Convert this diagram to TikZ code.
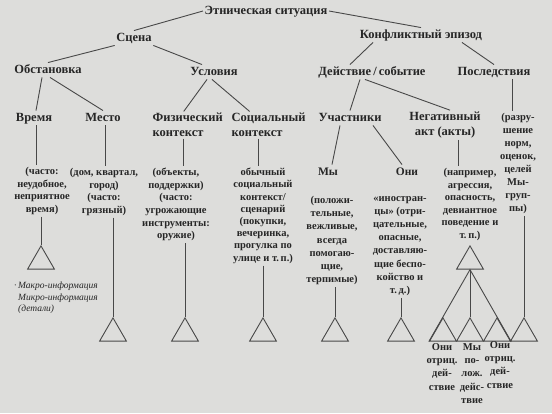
\documentclass[tikz,border=0pt]{standalone}
\usepackage{fontspec}
\setmainfont{Liberation Serif}
\usetikzlibrary{positioning, shapes.geometric}
\definecolor{bumaga}{HTML}{DDDDDB}
\definecolor{tush}{HTML}{262626}
\definecolor{shtrih}{HTML}{484848}

\begin{document}
\begin{tikzpicture}[x=1pt, y=-1pt,
    zagl/.style={text=tush, font=\fontsize{12.5}{14}\selectfont\bfseries,
      inner sep=1.5pt, text height=9pt, text depth=2.5pt},
    zagl2/.style={text=tush, font=\fontsize{12.5}{15}\selectfont\bfseries,
      inner sep=1.5pt, align=left},
    opis/.style={text=tush, font=\fontsize{10.5}{12.6}\selectfont\bfseries,
      inner sep=2pt, align=center, anchor=north},
    treug/.style={draw=shtrih, line width=0.9pt, regular polygon,
      regular polygon sides=3, minimum size=31pt, inner sep=0pt,
      anchor=corner 1},
    liniya/.style={shtrih, line width=0.9pt}]
  \fill[bumaga] (0,0) rectangle (552,413);
  \node[zagl] (situaciya) at (266,11) {Этническая ситуация};
  \node[zagl] (scena) at (134,38) {Сцена};
  \node[zagl] (konflikt) at (421,35) {Конфликтный эпизод};
  \node[zagl] (obstanovka) at (48,70) {Обстановка};
  \node[zagl] (usloviya) at (214,72) {Условия};
  \node[zagl] (dejstvie) at (372,72) {Действие\,/\,событие};
  \node[zagl] (posledstviya) at (494,72) {Последствия};
  \node[zagl] (vremya) at (34,118) {Время};
  \node[zagl] (mesto) at (103,118) {Место};
  \node[zagl2, anchor=west] (fiz) at (151,125) {Физический\\контекст};
  \node[zagl2, anchor=west] (soc) at (230,125) {Социальный\\контекст};
  \node[zagl] (uchastniki) at (350,118) {Участники};
  \node[zagl2, align=center] (negativ) at (445,125) {Негативный\\акт (акты)};
  \node[zagl, font=\fontsize{11.5}{13}\selectfont\bfseries] (my) at (328,172) {Мы};
  \node[zagl, font=\fontsize{11.5}{13}\selectfont\bfseries] (oni) at (407,172) {Они};

  \node[opis] (opVremya) at (42,165) {(часто:\\неудобное,\\неприятное\\время)};
  \node[opis] (opMesto) at (104,166) {(дом, квартал,\\город)\\(часто:\\грязный)};
  \node[opis] (opFiz) at (176,166) {(объекты,\\поддержки)\\(часто:\\угрожающие\\инструменты:\\оружие)};
  \node[opis, font=\fontsize{10.5}{12.2}\selectfont\bfseries] (opSoc) at (263,166) {обычный\\социальный\\контекст/\\сценарий\\(покупки,\\вечеринка,\\прогулка по\\улице и т.\,п.)};
  \node[opis, font=\fontsize{10.5}{13.2}\selectfont\bfseries] (opMy) at (332,194) {(положи-\\тельные,\\вежливые,\\всегда\\помогаю-\\щие,\\терпимые)};
  \node[opis, font=\fontsize{10.5}{13.2}\selectfont\bfseries] (opOni) at (400,194) {«иностран-\\цы» (отри-\\цательные,\\опасные,\\доставляю-\\щие беспо-\\койство и\\т.\,д.)};
  \node[opis] (opNegativ) at (470,166) {(например,\\агрессия,\\опасность,\\девиантное\\поведение и\\т.\,п.)};
  \node[opis, font=\fontsize{10.5}{13}\selectfont\bfseries] (opPosl) at (518,111) {(разру-\\шение\\норм,\\оценок,\\целей\\Мы-\\груп-\\пы)};

  \node[text=tush, font=\fontsize{9.5}{11.5}\selectfont\itshape, align=left,
    anchor=north west, inner sep=0pt] (legenda) at (18,282)
    {\llap{·\,}Макро-информация\\Микро-информация\\(детали)};

  \node[treug] (tVremya) at (41,245) {};
  \node[treug] (tMesto) at (113,317) {};
  \node[treug] (tFiz) at (185,317) {};
  \node[treug] (tSoc) at (263,317) {};
  \node[treug] (tMy) at (335,317) {};
  \node[treug] (tOni) at (401,317) {};
  \node[treug] (tNegativ) at (470,245) {};
  \node[treug] (tOni1) at (443,317) {};
  \node[treug] (tMy1) at (470,317) {};
  \node[treug] (tOni2) at (497,317) {};
  \node[treug] (tPosl) at (524,317) {};

  \node[opis, font=\fontsize{10.5}{13.4}\selectfont\bfseries] (podpis1) at (442,341) {Они\\отриц.\\дей-\\ствие};
  \node[opis, font=\fontsize{10.5}{13.4}\selectfont\bfseries] (podpis2) at (472,341) {Мы\\по-\\лож.\\дейс-\\твие};
  \node[opis, font=\fontsize{10.5}{13.4}\selectfont\bfseries] (podpis3) at (500,339) {Они\\отриц.\\дей-\\ствие};

  \draw[liniya] (situaciya.west) -- (scena.north);
  \draw[liniya] (situaciya.east) -- (konflikt.north);
  \draw[liniya] (scena.south west) -- (obstanovka.north);
  \draw[liniya] (scena.south east) -- ([xshift=-12pt]usloviya.north);
  \draw[liniya] ([xshift=-48pt]konflikt.south) -- ([xshift=-22pt]dejstvie.north);
  \draw[liniya] ([xshift=41pt]konflikt.south) -- (posledstviya.north);
  \draw[liniya] ([xshift=-6pt]obstanovka.south) -- ([xshift=2pt]vremya.north);
  \draw[liniya] ([xshift=2pt]obstanovka.south) -- (mesto.north);
  \draw[liniya] ([xshift=-7pt]usloviya.south) -- ([xshift=-4pt]fiz.north);
  \draw[liniya] ([xshift=-2pt]usloviya.south) -- ([xshift=-19pt]soc.north);
  \draw[liniya] ([xshift=-12pt]dejstvie.south) -- (uchastniki.north);
  \draw[liniya] ([xshift=-7pt]dejstvie.south) -- ([xshift=5pt]negativ.north);
  \draw[liniya] ([xshift=-10pt]uchastniki.south) -- ([xshift=4pt]my.north);
  \draw[liniya] ([xshift=23pt]uchastniki.south) -- ([xshift=-5pt]oni.north);

  \draw[liniya] ([xshift=2pt]vremya.south) -- ([xshift=2pt]vremya.south |- opVremya.north);
  \draw[liniya] ([xshift=2pt]mesto.south) -- ([xshift=2pt]mesto.south |- opMesto.north);
  \draw[liniya] ([xshift=-4pt]fiz.south) -- ([xshift=-4pt]fiz.south |- opFiz.north);
  \draw[liniya] ([xshift=-10pt]soc.south) -- ([xshift=-10pt]soc.south |- opSoc.north);
  \draw[liniya] ([xshift=13pt]negativ.south) -- ([xshift=13pt]negativ.south |- opNegativ.north);
  \draw[liniya] ([xshift=18pt]posledstviya.south) -- ([xshift=18pt]posledstviya.south |- opPosl.north);

  \draw[liniya] (tVremya.corner 1 |- opVremya.south) -- (tVremya.corner 1);
  \draw[liniya] (tMesto.corner 1 |- opMesto.south) -- (tMesto.corner 1);
  \draw[liniya] (tFiz.corner 1 |- opFiz.south) -- (tFiz.corner 1);
  \draw[liniya] (tSoc.corner 1 |- opSoc.south) -- (tSoc.corner 1);
  \draw[liniya] (tMy.corner 1 |- opMy.south) -- (tMy.corner 1);
  \draw[liniya] (tOni.corner 1 |- opOni.south) -- (tOni.corner 1);
  \draw[liniya] (tPosl.corner 1 |- opPosl.south) -- (tPosl.corner 1);

  \draw[liniya] (tOni1.corner 2) -- (tNegativ.south) -- (tOni2.corner 3);
  \draw[liniya] (tNegativ.south) -- (tMy1.corner 1);
\end{tikzpicture}
\end{document}
